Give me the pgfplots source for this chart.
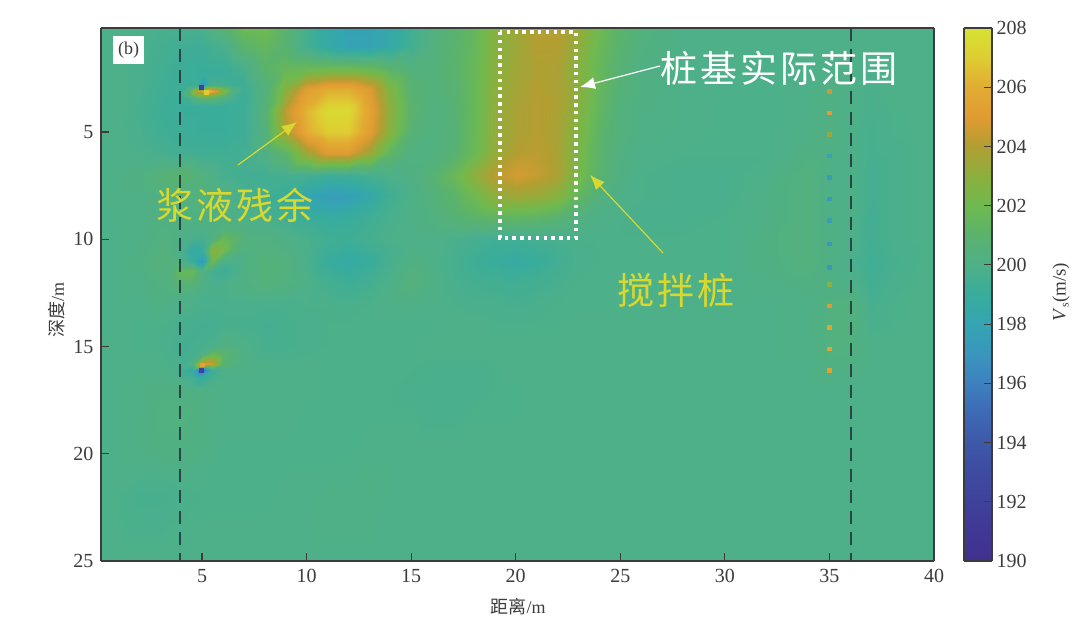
\documentclass[border=0pt]{standalone}
\usepackage{pgfplots}
\pgfplotsset{compat=1.18}
\usepackage{fontspec}
\usetikzlibrary{arrows.meta}
\setmainfont{Liberation Serif}
\newfontfamily\cjk{Noto Sans CJK SC}
\definecolor{axc}{RGB}{60,60,60}
\definecolor{yl}{RGB}{216,216,46}
\definecolor{dashc}{RGB}{40,70,70}
\pgfplotsset{
  colormap={vs}{rgb255=(65,48,143) rgb255=(64,56,148) rgb255=(63,65,155) rgb255=(62,75,160) rgb255=(62,88,168) rgb255=(62,105,180) rgb255=(62,128,192) rgb255=(58,150,190) rgb255=(52,165,178) rgb255=(56,172,156) rgb255=(78,176,136) rgb255=(90,178,108) rgb255=(110,185,80) rgb255=(140,175,62) rgb255=(178,158,50) rgb255=(225,155,50) rgb255=(225,172,50) rgb255=(222,205,50) rgb255=(215,225,50)},
  every axis/.append style={
    colormap name=vs,point meta min=190,point meta max=208,view={0}{90},axis on top,
    scale only axis,anchor=south west,tick align=inside,
    every tick/.style={draw=axc,line width=1.2pt},
    axis line style={draw=axc,line width=1.5pt},
    ticklabel style={font=\fontsize{20}{20}\selectfont,text=axc},
    /pgf/number format/assume math mode=true,
  }
}
\begin{document}
\begin{tikzpicture}[x=1pt,y=1pt]
\path (0,0) rectangle (1080,626);
\begin{axis}[
  at={(101pt,65pt)},width=833pt,height=533pt,y dir=reverse,
  xmin=0.17,xmax=40,ymin=0.15,ymax=25,
  xtick={5,10,...,40},ytick={5,10,...,25},
  xtick pos=bottom,ytick pos=left,major tick length=8pt,
  xticklabel style={yshift=-5pt},yticklabel style={xshift=-4pt},
]
\addplot3[surf,shader=interp,mesh/cols=36,point meta=z] coordinates {
(0.17,0.15,200)(1,0.15,200)(2,0.15,199.9)(3,0.15,199.8)(4,0.15,199.7)(5,0.15,199.8)(6,0.15,200.7)(7,0.15,202)(8,0.15,202)(9,0.15,201)(10,0.15,199.6)(11,0.15,198.5)(12,0.15,197.8)(13,0.15,197.8)(14,0.15,198.4)(15,0.15,199.4)(16,0.15,200.3)(17,0.15,200.9)(18,0.15,201.5)(19,0.15,202.8)(20,0.15,203.4)(21,0.15,204.1)(22,0.15,204.1)(23,0.15,203.3)(24,0.15,202)(25,0.15,201)(26,0.15,200.4)(28,0.15,200)(30,0.15,200)(32,0.15,200)(34,0.15,200)(35,0.15,200)(36,0.15,200)(37,0.15,200)(38,0.15,200)(40,0.15,200)
(0.17,1,200)(1,1,200)(2,1,199.9)(3,1,199.6)(4,1,199.4)(5,1,199.3)(6,1,199.8)(7,1,201)(8,1,201.6)(9,1,200.8)(10,1,199.6)(11,1,198.6)(12,1,197.9)(13,1,197.9)(14,1,198.5)(15,1,199.5)(16,1,200.3)(17,1,200.9)(18,1,201.6)(19,1,202.8)(20,1,203.4)(21,1,204)(22,1,204)(23,1,203.1)(24,1,201.8)(25,1,200.9)(26,1,200.3)(28,1,200)(30,1,200)(32,1,200)(34,1,200)(35,1,200)(36,1,200)(37,1,200)(38,1,200)(40,1,200)
(0.17,2,200)(1,2,200)(2,2,199.8)(3,2,199.5)(4,2,199.2)(5,2,199.1)(6,2,199.1)(7,2,199.8)(8,2,201)(9,2,201.6)(10,2,201.7)(11,2,201.8)(12,2,201.8)(13,2,201.6)(14,2,200.9)(15,2,200.4)(16,2,200.4)(17,2,200.9)(18,2,201.7)(19,2,202.9)(20,2,203.5)(21,2,203.9)(22,2,203.8)(23,2,202.8)(24,2,201.6)(25,2,200.7)(26,2,200.2)(28,2,200)(30,2,200)(32,2,199.9)(34,2,199.9)(35,2,200)(36,2,200)(37,2,199.9)(38,2,200)(40,2,200)
(0.17,3,200)(1,3,200)(2,3,199.8)(3,3,199.4)(4,3,199.2)(5,3,199.2)(6,3,199.1)(7,3,199.3)(8,3,200.4)(9,3,202.8)(10,3,205.2)(11,3,206)(12,3,206)(13,3,205)(14,3,202.6)(15,3,200.8)(16,3,200.4)(17,3,200.8)(18,3,201.7)(19,3,203)(20,3,203.6)(21,3,204)(22,3,203.8)(23,3,203)(24,3,201.6)(25,3,200.6)(26,3,200.2)(28,3,200)(30,3,199.9)(32,3,199.9)(34,3,200)(35,3,200.2)(36,3,200)(37,3,199.8)(38,3,200)(40,3,200)
(0.17,4,200)(1,4,200)(2,4,199.7)(3,4,199.3)(4,4,199.1)(5,4,199.1)(6,4,199.1)(7,4,199.3)(8,4,200.6)(9,4,204.3)(10,4,206.3)(11,4,207.6)(12,4,207.6)(13,4,205.6)(14,4,203)(15,4,201)(16,4,200.3)(17,4,200.7)(18,4,201.7)(19,4,203.1)(20,4,203.8)(21,4,204.1)(22,4,203.8)(23,4,202.8)(24,4,201.4)(25,4,200.4)(26,4,200.1)(28,4,200)(30,4,199.9)(32,4,199.9)(34,4,200)(35,4,200.2)(36,4,200)(37,4,199.8)(38,4,199.9)(40,4,200)
(0.17,5,200)(1,5,200)(2,5,199.8)(3,5,199.4)(4,5,199.2)(5,5,199.1)(6,5,199.1)(7,5,199.3)(8,5,200.4)(9,5,203.8)(10,5,206)(11,5,207)(12,5,207)(13,5,205.3)(14,5,202.8)(15,5,200.7)(16,5,200.3)(17,5,200.6)(18,5,201.7)(19,5,203.1)(20,5,203.8)(21,5,204.1)(22,5,203.7)(23,5,202.6)(24,5,201.2)(25,5,200.4)(26,5,200.1)(28,5,200)(30,5,199.9)(32,5,199.9)(34,5,200.1)(35,5,200.2)(36,5,200)(37,5,199.7)(38,5,199.9)(40,5,200)
(0.17,6,200)(1,6,200)(2,6,199.9)(3,6,199.7)(4,6,199.5)(5,6,199.4)(6,6,199.4)(7,6,199.5)(8,6,200.1)(9,6,201.2)(10,6,203.5)(11,6,205)(12,6,205)(13,6,203.5)(14,6,201.3)(15,6,200.3)(16,6,200.3)(17,6,200.7)(18,6,201.8)(19,6,203.2)(20,6,204)(21,6,204.2)(22,6,203.7)(23,6,202.4)(24,6,201)(25,6,200.3)(26,6,200)(28,6,199.9)(30,6,199.9)(32,6,199.9)(34,6,200.2)(35,6,200.1)(36,6,200)(37,6,199.7)(38,6,199.8)(40,6,200)
(0.17,7,200)(1,7,200.1)(2,7,200.2)(3,7,200.6)(4,7,201)(5,7,200.4)(6,7,199.7)(7,7,199.5)(8,7,199.5)(9,7,199.6)(10,7,199.6)(11,7,199.3)(12,7,199.4)(13,7,199.7)(14,7,200)(15,7,200.2)(16,7,200.7)(17,7,201.7)(18,7,203)(19,7,204.2)(20,7,204.7)(21,7,204.4)(22,7,203.8)(23,7,202.3)(24,7,200.9)(25,7,200.2)(26,7,199.9)(28,7,199.8)(30,7,199.8)(32,7,200)(34,7,200.4)(35,7,200)(36,7,200)(37,7,199.6)(38,7,199.8)(40,7,200)
(0.17,8,200)(1,8,200.1)(2,8,200.1)(3,8,200.2)(4,8,200.3)(5,8,200.4)(6,8,200.2)(7,8,199.7)(8,8,199.4)(9,8,199)(10,8,198.2)(11,8,197.4)(12,8,197.6)(13,8,198.4)(14,8,199.4)(15,8,200)(16,8,200.4)(17,8,201)(18,8,202)(19,8,203)(20,8,203.5)(21,8,203.3)(22,8,202.8)(23,8,201.5)(24,8,200.4)(25,8,200)(26,8,199.9)(28,8,199.8)(30,8,199.8)(32,8,200.1)(34,8,200.4)(35,8,200)(36,8,200)(37,8,199.6)(38,8,199.8)(40,8,200)
(0.17,9,200)(1,9,200)(2,9,200.1)(3,9,200.2)(4,9,200.2)(5,9,200.2)(6,9,200.1)(7,9,200)(8,9,199.8)(9,9,199.5)(10,9,199.2)(11,9,198.9)(12,9,199)(13,9,199.4)(14,9,199.8)(15,9,200)(16,9,200.3)(17,9,200.6)(18,9,201)(19,9,201.2)(20,9,201.3)(21,9,201.2)(22,9,200.8)(23,9,200.3)(24,9,200)(25,9,199.9)(26,9,199.8)(28,9,199.8)(30,9,199.9)(32,9,200.1)(34,9,200.4)(35,9,200.1)(36,9,200)(37,9,199.5)(38,9,199.8)(40,9,200)
(0.17,10,200)(1,10,200)(2,10,200.1)(3,10,200.3)(4,10,200.2)(5,10,200)(6,10,200.3)(7,10,200.4)(8,10,200.3)(9,10,200.1)(10,10,199.8)(11,10,199.4)(12,10,199.3)(13,10,199.6)(14,10,199.9)(15,10,200)(16,10,200)(17,10,199.8)(18,10,199.6)(19,10,199.4)(20,10,199.4)(21,10,199.6)(22,10,199.8)(23,10,199.9)(24,10,199.9)(25,10,199.9)(26,10,199.9)(28,10,199.9)(30,10,199.9)(32,10,200.2)(34,10,200.4)(35,10,200.1)(36,10,200)(37,10,199.5)(38,10,199.8)(40,10,200)
(0.17,11,200)(1,11,200)(2,11,200.2)(3,11,200.5)(4,11,200.3)(5,11,200)(6,11,200)(7,11,200.2)(8,11,200.5)(9,11,200.4)(10,11,199.8)(11,11,199)(12,11,198.6)(13,11,199)(14,11,199.7)(15,11,200.2)(16,11,200)(17,11,199.7)(18,11,199.3)(19,11,199)(20,11,198.8)(21,11,199)(22,11,199.5)(23,11,199.8)(24,11,199.9)(25,11,199.9)(26,11,199.9)(28,11,199.9)(30,11,199.9)(32,11,200.2)(34,11,200.4)(35,11,200.1)(36,11,199.9)(37,11,199.4)(38,11,199.7)(40,11,200)
(0.17,12,200)(1,12,200)(2,12,200.1)(3,12,200.3)(4,12,200.4)(5,12,200.1)(6,12,199.9)(7,12,200.2)(8,12,200.5)(9,12,200.4)(10,12,200)(11,12,199.6)(12,12,199.3)(13,12,199.5)(14,12,200)(15,12,200.5)(16,12,200.1)(17,12,199.8)(18,12,199.6)(19,12,199.5)(20,12,199.4)(21,12,199.5)(22,12,199.7)(23,12,199.9)(24,12,199.9)(25,12,199.9)(26,12,199.9)(28,12,199.9)(30,12,199.9)(32,12,200.1)(34,12,200.2)(35,12,200.1)(36,12,200)(37,12,199.5)(38,12,199.8)(40,12,200)
(0.17,13,200)(1,13,200)(2,13,200)(3,13,200.1)(4,13,200)(5,13,199.8)(6,13,199.8)(7,13,199.8)(8,13,199.8)(9,13,199.8)(10,13,199.9)(11,13,199.9)(12,13,199.8)(13,13,199.9)(14,13,200)(15,13,200.1)(16,13,200)(17,13,199.9)(18,13,199.8)(19,13,199.8)(20,13,199.7)(21,13,199.8)(22,13,199.9)(23,13,199.9)(24,13,199.9)(25,13,199.9)(26,13,199.9)(28,13,200)(30,13,200)(32,13,200)(34,13,200.1)(35,13,200.3)(36,13,200.4)(37,13,199.7)(38,13,199.9)(40,13,200)
(0.17,14,200)(1,14,200)(2,14,199.9)(3,14,199.9)(4,14,199.7)(5,14,199.6)(6,14,199.7)(7,14,199.7)(8,14,199.6)(9,14,199.7)(10,14,199.8)(11,14,199.9)(12,14,199.9)(13,14,199.9)(14,14,199.9)(15,14,199.9)(16,14,199.9)(17,14,200)(18,14,200)(19,14,199.9)(20,14,199.9)(21,14,199.9)(22,14,199.9)(23,14,200)(24,14,200)(25,14,200)(26,14,200)(28,14,200)(30,14,200)(32,14,200)(34,14,200.1)(35,14,200.3)(36,14,200.5)(37,14,199.8)(38,14,199.9)(40,14,200)
(0.17,15,200)(1,15,200)(2,15,199.9)(3,15,199.9)(4,15,199.6)(5,15,199.7)(6,15,200.3)(7,15,200)(8,15,199.7)(9,15,199.7)(10,15,199.8)(11,15,199.9)(12,15,199.9)(13,15,199.9)(14,15,199.9)(15,15,199.9)(16,15,200)(17,15,200)(18,15,200)(19,15,200)(20,15,200)(21,15,200)(22,15,200)(23,15,200)(24,15,200)(25,15,200)(26,15,200)(28,15,200)(30,15,200)(32,15,200)(34,15,200.1)(35,15,200.3)(36,15,200.3)(37,15,200)(38,15,200)(40,15,200)
(0.17,16,200)(1,16,200)(2,16,200)(3,16,200)(4,16,199.8)(5,16,199.7)(6,16,200)(7,16,200.1)(8,16,200)(9,16,200)(10,16,200)(11,16,199.9)(12,16,199.9)(13,16,199.9)(14,16,199.9)(15,16,199.9)(16,16,199.8)(17,16,199.8)(18,16,199.8)(19,16,199.9)(20,16,200)(21,16,200)(22,16,200)(23,16,200)(24,16,200)(25,16,200)(26,16,200)(28,16,200)(30,16,200)(32,16,200)(34,16,200)(35,16,200.2)(36,16,200.1)(37,16,200)(38,16,200)(40,16,200)
(0.17,17,200)(1,17,200)(2,17,200.1)(3,17,200.2)(4,17,200.2)(5,17,200.1)(6,17,200)(7,17,200)(8,17,200)(9,17,200)(10,17,200)(11,17,199.9)(12,17,199.9)(13,17,199.9)(14,17,199.9)(15,17,199.8)(16,17,199.8)(17,17,199.8)(18,17,199.8)(19,17,199.9)(20,17,199.9)(21,17,200)(22,17,200)(23,17,200)(24,17,200)(25,17,200)(26,17,200)(28,17,200)(30,17,200)(32,17,200)(34,17,200)(35,17,200)(36,17,200)(37,17,200)(38,17,200)(40,17,200)
(0.17,18,200)(1,18,200)(2,18,200.1)(3,18,200.3)(4,18,200.3)(5,18,200.2)(6,18,200)(7,18,200)(8,18,200)(9,18,200)(10,18,199.9)(11,18,199.9)(12,18,199.9)(13,18,199.9)(14,18,199.9)(15,18,199.9)(16,18,199.8)(17,18,199.8)(18,18,199.9)(19,18,199.9)(20,18,199.9)(21,18,200)(22,18,200)(23,18,200)(24,18,200)(25,18,200)(26,18,200)(28,18,200)(30,18,200)(32,18,200)(34,18,200)(35,18,200)(36,18,200)(37,18,200)(38,18,200)(40,18,200)
(0.17,20,200)(1,20,200)(2,20,200.1)(3,20,200.2)(4,20,200.2)(5,20,200.1)(6,20,199.9)(7,20,199.9)(8,20,199.9)(9,20,199.9)(10,20,199.9)(11,20,199.9)(12,20,199.9)(13,20,200)(14,20,200)(15,20,200)(16,20,200)(17,20,200)(18,20,200)(19,20,200)(20,20,200)(21,20,200)(22,20,200)(23,20,200)(24,20,200)(25,20,200)(26,20,200)(28,20,200)(30,20,200)(32,20,200)(34,20,200)(35,20,200)(36,20,200)(37,20,200)(38,20,200)(40,20,200)
(0.17,22,200)(1,22,199.9)(2,22,199.7)(3,22,199.7)(4,22,199.8)(5,22,199.9)(6,22,199.9)(7,22,199.9)(8,22,199.9)(9,22,200)(10,22,200)(11,22,200.1)(12,22,200.1)(13,22,200.1)(14,22,200)(15,22,200)(16,22,200)(17,22,200)(18,22,200)(19,22,200)(20,22,200)(21,22,200)(22,22,200)(23,22,200)(24,22,200)(25,22,200)(26,22,200)(28,22,200)(30,22,200)(32,22,200)(34,22,200)(35,22,200)(36,22,200)(37,22,200)(38,22,200)(40,22,200)
(0.17,25,200)(1,25,200)(2,25,200)(3,25,200)(4,25,200)(5,25,200)(6,25,200)(7,25,200)(8,25,200)(9,25,200)(10,25,200)(11,25,200)(12,25,200)(13,25,200)(14,25,200)(15,25,200)(16,25,200)(17,25,200)(18,25,200)(19,25,200)(20,25,200)(21,25,200)(22,25,200)(23,25,200)(24,25,200)(25,25,200)(26,25,200)(28,25,200)(30,25,200)(32,25,200)(34,25,200)(35,25,200)(36,25,200)(37,25,200)(38,25,200)(40,25,200)
};
% local detail near x=5, depth 10-12
\addplot3[surf,shader=interp,mesh/cols=8,point meta=z] coordinates {
(3.5,9,200.2)(4,9,200.2)(4.5,9,200.2)(5,9,200.2)(5.5,9,200.2)(6,9,200.1)(6.5,9,200.1)(7,9,200)
(3.5,9.5,200.2)(4,9.5,200.1)(4.5,9.5,200)(5,9.5,200)(5.5,9.5,200.2)(6,9.5,200.4)(6.5,9.5,200.4)(7,9.5,200.2)
(3.5,10,200.3)(4,10,200)(4.5,10,199.8)(5,10,199.7)(5.5,10,200.3)(6,10,201.8)(6.5,10,201.2)(7,10,200.4)
(3.5,10.5,200.3)(4,10.5,199.8)(4.5,10.5,198.6)(5,10.5,199)(5.5,10.5,202.8)(6,10.5,202.3)(6.5,10.5,200.8)(7,10.5,200.3)
(3.5,11,200.5)(4,11,200.2)(4.5,11,199)(5,11,197)(5.5,11,202)(6,11,200)(6.5,11,199.9)(7,11,200.1)
(3.5,11.5,200.6)(4,11.5,201.6)(4.5,11.5,201.8)(5,11.5,200.3)(5.5,11.5,199.6)(6,11.5,199.3)(6.5,11.5,199.7)(7,11.5,200.1)
(3.5,12,200.4)(4,12,200.9)(4.5,12,200.8)(5,12,200.2)(5.5,12,199.8)(6,12,199.8)(6.5,12,200)(7,12,200.2)
(3.5,12.5,200.2)(4,12.5,200.3)(4.5,12.5,200.2)(5,12.5,200)(5.5,12.5,199.9)(6,12.5,199.9)(6.5,12.5,200)(7,12.5,200.2)
};
% local detail near x=5, depth 3
\addplot3[surf,shader=interp,mesh/cols=9,point meta=z] coordinates {
(4,2.4,199.2)(4.4,2.4,199.2)(4.7,2.4,199.1)(5,2.4,199)(5.3,2.4,199.2)(5.6,2.4,199.3)(6,2.4,199.3)(6.5,2.4,199.2)(7,2.4,199.3)
(4,2.8,199.2)(4.4,2.8,199.2)(4.7,2.8,199.3)(5,2.8,197)(5.3,2.8,199.5)(5.6,2.8,199.8)(6,2.8,199.6)(6.5,2.8,199.3)(7,2.8,199.3)
(4,3.1,199.3)(4.4,3.1,201)(4.7,3.1,204.5)(5,3.1,205)(5.3,3.1,207)(5.6,3.1,205.2)(6,3.1,203)(6.5,3.1,200.3)(7,3.1,199.3)
(4,3.4,199.2)(4.4,3.4,199.5)(4.7,3.4,200.5)(5,3.4,201)(5.3,3.4,201)(5.6,3.4,200.8)(6,3.4,200.3)(6.5,3.4,199.6)(7,3.4,199.3)
(4,3.8,199.1)(4.4,3.8,199.1)(4.7,3.8,199.1)(5,3.8,199.2)(5.3,3.8,199.2)(5.6,3.8,199.2)(6,3.8,199.1)(6.5,3.8,199.2)(7,3.8,199.3)
};
% local detail near x=5, depth 16
\addplot3[surf,shader=interp,mesh/cols=6,point meta=z] coordinates {
(4,15,199.6)(4.5,15,199.6)(5,15,199.7)(5.5,15,200)(6,15,200.3)(7,15,200)
(4,15.4,199.6)(4.5,15.4,199.7)(5,15.4,200.3)(5.5,15.4,202)(6,15.4,201)(7,15.4,200.1)
(4,15.8,199.6)(4.5,15.8,200)(5,15.8,205)(5.5,15.8,204.5)(6,15.8,200.8)(7,15.8,200.1)
(4,16.1,199.6)(4.5,16.1,198.8)(5,16.1,195)(5.5,16.1,199.3)(6,16.1,200)(7,16.1,200.1)
(4,16.4,199.7)(4.5,16.4,199.6)(5,16.4,198.8)(5.5,16.4,199.6)(6,16.4,199.9)(7,16.4,200)
(4,17,200.1)(4.5,17,200)(5,17,200)(5.5,17,200)(6,17,200)(7,17,200)
};
\addplot3[only marks,scatter,point meta=z,mark=square*,mark size=1.8pt,scatter/use mapped color={draw=mapped color,fill=mapped color}] coordinates {
(4.96,2.9,192)(5.2,3.13,207)(5,15.85,205.5)(4.96,16.1,192)
(35,3.1,204.5)(35,4.1,205)(35,5.1,203.5)(35,6.1,198)(35,7.1,197.5)(35,8.1,197)(35,9.1,197.5)(35,10.2,197)(35,11.3,197)(35,12.1,203)(35,13.1,205)(35,14.1,205.5)(35,15.1,205.5)(35,16.1,205.5)
};
\end{axis}
\begin{axis}[
  at={(964pt,65pt)},width=28pt,height=533pt,xmin=0,xmax=1,ymin=190,ymax=208,
  xtick=\empty,ytick={190,192,...,208},ytick pos=right,yticklabel pos=right,major tick length=8pt,
  yticklabel style={xshift=1pt},
]
\addplot3[surf,shader=interp,mesh/cols=2,point meta=z] coordinates {
(0,190,190)(1,190,190)(0,191,191)(1,191,191)(0,192,192)(1,192,192)(0,193,193)(1,193,193)(0,194,194)(1,194,194)(0,195,195)(1,195,195)(0,196,196)(1,196,196)(0,197,197)(1,197,197)(0,198,198)(1,198,198)(0,199,199)(1,199,199)(0,200,200)(1,200,200)(0,201,201)(1,201,201)(0,202,202)(1,202,202)(0,203,203)(1,203,203)(0,204,204)(1,204,204)(0,205,205)(1,205,205)(0,206,206)(1,206,206)(0,207,207)(1,207,207)(0,208,208)(1,208,208)
};
\end{axis}
% annotations (positions in reference pixels, y from the bottom)
\draw[dashc,line width=1.8pt,dash pattern=on 13pt off 8pt] (180,598) -- (180,65);
\draw[dashc,line width=1.8pt,dash pattern=on 13pt off 8pt] (851,598) -- (851,65);
\draw[white,line width=3.4pt,dash pattern=on 3.4pt off 4.4pt] (500,594) rectangle (576,388);
\draw[white,line width=1.2pt,-{Latex[length=15pt,width=12pt]}] (660,560) -- (580,539);
\draw[yl,line width=1.2pt,-{Latex[length=15pt,width=12pt]}] (238,461) -- (297,504);
\draw[yl,line width=1.2pt,-{Latex[length=15pt,width=12pt]}] (663,373) -- (590,451);
\node[text=white,font=\cjk\fontsize{37}{37}\selectfont\addfontfeature{LetterSpace=8}] at (779,558) {桩基实际范围};
\node[text=yl,font=\cjk\fontsize{37}{37}\selectfont\addfontfeature{LetterSpace=8}] at (235,421) {浆液残余};
\node[text=yl,font=\cjk\fontsize{37}{37}\selectfont\addfontfeature{LetterSpace=8}] at (676,336) {搅拌桩};
\node[fill=white,minimum width=31pt,minimum height=28pt,inner sep=0pt,font=\fontsize{18}{18}\selectfont,text=axc] at (128.5,576) {(b)};
\node[font=\fontsize{18}{18}\selectfont,text=axc] at (518,19) {{\cjk 距离}/m};
\node[font=\fontsize{18}{18}\selectfont,text=axc,rotate=90] at (57,316) {{\cjk 深度}/m};
\node[font=\fontsize{19}{19}\selectfont,text=axc,rotate=90] at (1061,334) {\textit{V}\raisebox{-3pt}{\fontsize{12}{12}\selectfont s}(m/s)};
\end{tikzpicture}
\end{document}
